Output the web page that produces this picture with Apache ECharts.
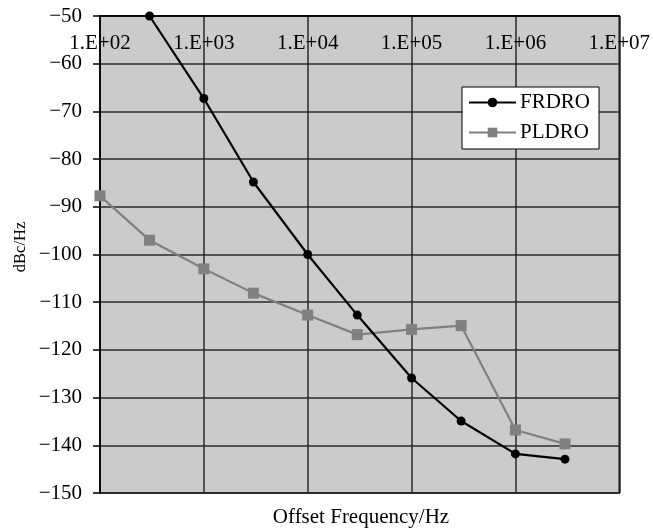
<!DOCTYPE html>
<html><head><meta charset="utf-8">
<script src="https://cdn.jsdelivr.net/npm/echarts@6/dist/echarts.min.js"></script>
<style>html,body{margin:0;padding:0;background:#fff}#c{width:653px;height:531px}</style>
</head><body><div id="c"></div>
<script>
var freqs = [100, 300, 1000, 3000, 10000, 30000, 100000, 300000, 1000000, 3000000];
var frdro = [null, -50, -67.3, -84.8, -100, -112.7, -125.9, -134.9, -141.8, -142.9];
var pldro = [-87.7, -97, -103, -108.1, -112.7, -116.8, -115.7, -114.9, -136.8, -139.7];
var xTickLabels = ['1.E+02','1.E+03','1.E+04','1.E+05','1.E+06','1.E+07'];
var yMin = -150, yMax = -50, yStep = 10;

function pairs(xs, ys){ var o=[]; for(var i=0;i<xs.length;i++){ if(ys[i]!==null) o.push([xs[i], ys[i]]);} return o; }
var FONT = '"Liberation Serif","Times New Roman",serif';
var chart = echarts.init(document.getElementById('c'));
chart.setOption({
  animation:false,
  backgroundColor:'#fff',
  grid:{left:100,right:31,top:16,bottom:38,show:true,backgroundColor:'#cbcbcb',borderColor:'#000',borderWidth:1.5},
  legend:{
    orient:'vertical', left:462, top:87,
    backgroundColor:'#fff', borderColor:'#000', borderWidth:1,
    padding:[5,9,6,6], itemGap:9, itemWidth:47, itemHeight:12,
    textStyle:{fontFamily:FONT,fontSize:21,color:'#000',padding:[0,0,0,-1]},
    data:['FRDRO','PLDRO']
  },
  xAxis:{
    type:'log', logBase:10, min:100, max:10000000, position:'top',
    axisLine:{show:true,lineStyle:{color:'#000',width:1.5}},
    axisTick:{show:false},
    minorTick:{show:false},
    splitLine:{show:true,lineStyle:{color:'#2a2a2a',width:1.5}},
    axisLabel:{inside:true, margin:17, fontFamily:FONT, fontSize:21, color:'#000',
      formatter:function(v){ var e=Math.round(Math.log10(v)); return xTickLabels[e-2]||''; }}
  },
  yAxis:{
    type:'value', min:yMin, max:yMax, interval:yStep,
    axisLine:{show:true,lineStyle:{color:'#000',width:1.5}},
    axisTick:{show:true,inside:false,length:7,lineStyle:{color:'#000',width:1.5}},
    splitLine:{show:true,lineStyle:{color:'#2a2a2a',width:1.5}},
    axisLabel:{margin:18,fontFamily:FONT,fontSize:21,color:'#000',
      formatter:function(v){ return String(v).replace('-','\u2212'); }}
  },
  graphic:[
    {type:'text', x:361, y:517, style:{text:'Offset Frequency/Hz', font:'21px '+FONT, fill:'#000', align:'center', verticalAlign:'middle'}},
    {type:'text', x:21, y:247, rotation:Math.PI/2, style:{text:'dBc/Hz', font:'16.5px '+FONT, fill:'#000', align:'center', verticalAlign:'middle'}}
  ],
  series:[
    {name:'FRDRO', type:'line', data:pairs(freqs, frdro), symbol:'circle', symbolSize:9,
     itemStyle:{color:'#000'}, lineStyle:{color:'#000',width:2.2}, z:3},
    {name:'PLDRO', type:'line', data:pairs(freqs, pldro), symbol:'rect', symbolSize:11,
     itemStyle:{color:'#808080'}, lineStyle:{color:'#808080',width:2.2}, z:2}
  ]
});
</script></body></html>
